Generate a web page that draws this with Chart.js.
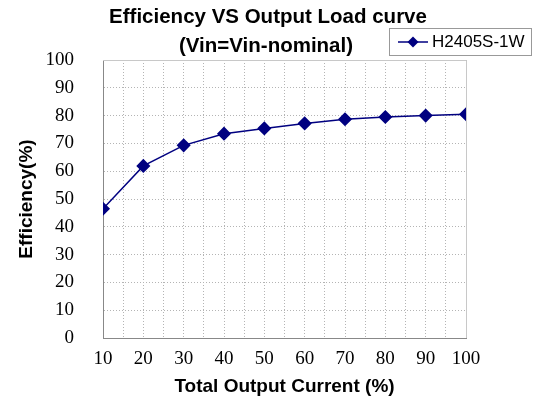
<!DOCTYPE html>
<html>
<head>
<meta charset="utf-8">
<script src="https://cdn.jsdelivr.net/npm/chart.js@4.4.1/dist/chart.umd.min.js"></script>
<style>
  html, body { margin: 0; padding: 0; background: #fff; }
  #wrap { width: 536px; height: 400px; position: relative; }
</style>
</head>
<body>
<div id="wrap"><canvas id="chart"></canvas></div>
<script>
// Efficiency vs output load
const loadPercent = [10, 20, 30, 40, 50, 60, 70, 80, 90, 100];
const efficiency = [46.5, 61.9, 69.3, 73.5, 75.4, 77.2, 78.7, 79.5, 80.0, 80.5];
const seriesName = 'H2405S-1W';
const titleLines = ['Efficiency VS Output Load curve', '(Vin=Vin-nominal)'];

const NAVY = '#000080';

// plot frame (top/right light gray), the title and the small legend box
const framePlugin = {
  id: 'frame',
  beforeDatasetsDraw(chart) {
    const { ctx, chartArea: a } = chart;
    ctx.save();
    ctx.strokeStyle = '#c8c8c8';
    ctx.lineWidth = 1;
    ctx.beginPath();
    ctx.moveTo(a.left, a.top + 0.5);
    ctx.lineTo(a.right + 0.5, a.top + 0.5);
    ctx.lineTo(a.right + 0.5, a.bottom);
    ctx.stroke();
    ctx.restore();
  },
  afterDraw(chart) {
    const ctx = chart.ctx;
    ctx.save();
    // title, centred a bit right of the plot like the original
    ctx.fillStyle = '#000';
    ctx.font = 'bold 20.5px "Liberation Sans", Arial, sans-serif';
    ctx.textAlign = 'center';
    ctx.textBaseline = 'middle';
    ctx.fillText(titleLines[0], 268, 17);
    ctx.fillText(titleLines[1], 266, 46);

    // legend
    const x = 389, y = 28, w = 142, h = 27;
    ctx.textAlign = 'left';
    ctx.fillStyle = '#fff';
    ctx.fillRect(x, y, w, h);
    ctx.strokeStyle = '#999';
    ctx.lineWidth = 1;
    ctx.strokeRect(x + 0.5, y + 0.5, w, h);
    const my = y + h / 2 + 0.5;
    ctx.strokeStyle = NAVY;
    ctx.lineWidth = 1.5;
    ctx.beginPath();
    ctx.moveTo(x + 9, my);
    ctx.lineTo(x + 39, my);
    ctx.stroke();
    ctx.fillStyle = NAVY;
    ctx.beginPath();
    const cx = x + 24;
    ctx.moveTo(cx, my - 5.5);
    ctx.lineTo(cx + 5.5, my);
    ctx.lineTo(cx, my + 5.5);
    ctx.lineTo(cx - 5.5, my);
    ctx.closePath();
    ctx.fill();
    ctx.fillStyle = '#000';
    ctx.font = '17px "Liberation Sans", Arial, sans-serif';
    ctx.fillText(seriesName, x + 43, my);
    ctx.restore();
  }
};

const ctx = document.getElementById('chart').getContext('2d');
new Chart(ctx, {
  type: 'line',
  data: {
    datasets: [{
      label: seriesName,
      data: loadPercent.map((x, i) => ({ x: x, y: efficiency[i] })),
      borderColor: NAVY,
      backgroundColor: NAVY,
      borderWidth: 1.5,
      pointStyle: 'rectRot',
      pointRadius: 6,
      pointHoverRadius: 6,
      tension: 0
    }]
  },
  options: {
    responsive: true,
    maintainAspectRatio: false,
    animation: false,
    layout: { padding: { left: 0, right: 70, top: 60, bottom: 0 } },
    plugins: {
      legend: { display: false },
      tooltip: { enabled: false },
      title: { display: false }
    },
    scales: {
      x: {
        type: 'linear',
        min: 10,
        max: 100,
        afterFit(scale) { scale.height = 62; },
        ticks: {
          stepSize: 5,
          autoSkip: false,
          maxRotation: 0,
          padding: 10,
          color: '#000',
          font: { family: '"Liberation Serif", "Times New Roman", serif', size: 19 },
          callback: v => (v % 10 === 0 ? String(v) : '')
        },
        grid: { color: '#b4b4b4', lineWidth: 1, drawTicks: false },
        border: { color: '#888', width: 1, dash: [1, 2] },
        title: {
          display: true,
          text: 'Total Output Current (%)',
          color: '#000',
          font: { family: '"Liberation Sans", Arial, sans-serif', size: 19, weight: 'bold', lineHeight: 1.2 },
          padding: { top: 0, bottom: 2 }
        }
      },
      y: {
        min: 0,
        max: 100,
        afterFit(scale) { scale.width = 103; },
        ticks: {
          stepSize: 10,
          padding: 29,
          color: '#000',
          font: { family: '"Liberation Serif", "Times New Roman", serif', size: 19 }
        },
        grid: { color: '#b4b4b4', lineWidth: 1, drawTicks: false },
        border: { color: '#888', width: 1, dash: [1, 2] },
        title: {
          display: true,
          text: 'Efficiency(%)',
          color: '#000',
          font: { family: '"Liberation Sans", Arial, sans-serif', size: 19, weight: 'bold', lineHeight: 1.2 },
          padding: { top: 15, bottom: 0 }
        }
      }
    }
  },
  plugins: [framePlugin]
});
</script>
</body>
</html>
